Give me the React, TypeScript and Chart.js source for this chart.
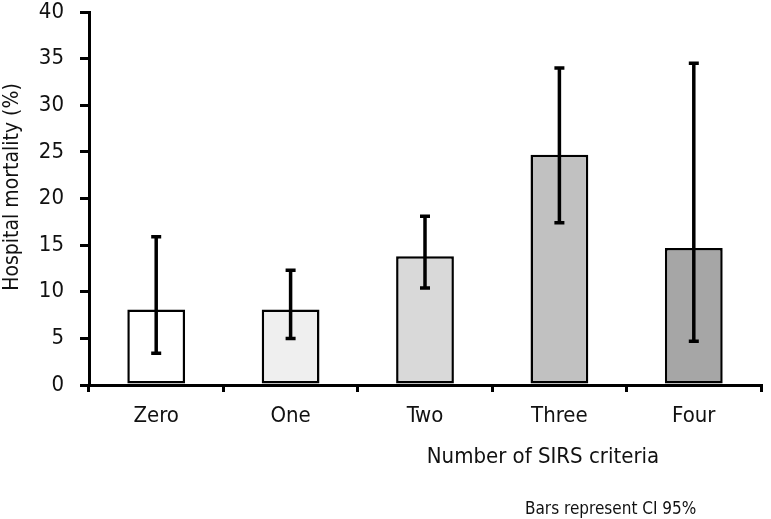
import React, { useEffect, useRef } from "react";
import { Chart, registerables } from "chart.js";

Chart.register(...registerables);

const categories = ["Zero", "One", "Two", "Three", "Four"];
const mortality = [8.1, 8.1, 13.8, 24.7, 14.7];
const ciLower = [3.4, 5.0, 10.4, 17.4, 4.7];
const ciUpper = [15.9, 12.3, 18.1, 34.0, 34.5];
const barColors = ["#ffffff", "#efefef", "#d9d9d9", "#c1c1c1", "#a6a6a6"];
const yTicks = [0, 5, 10, 15, 20, 25, 30, 35, 40];

const yTitle = "Hospital mortality (%)";
const xTitle = "Number of SIRS criteria";
const footnote = "Bars represent CI 95%";

const FONT = '"Liberation Sans Narrow", "DejaVu Sans Condensed", "Liberation Sans", sans-serif';

const errorBarPlugin = {
  id: "errorBars",
  afterDatasetsDraw(chart: any) {
    const { ctx, scales } = chart;
    const xs = scales.x;
    const ys = scales.y;
    ctx.save();
    ctx.strokeStyle = "#000";
    ctx.lineWidth = 3.5;
    ctx.lineCap = "butt";
    categories.forEach((_, i) => {
      const x = xs.getPixelForValue(i);
      const yLo = ys.getPixelForValue(ciLower[i]);
      const yHi = ys.getPixelForValue(ciUpper[i]);
      ctx.beginPath();
      ctx.moveTo(x, yLo);
      ctx.lineTo(x, yHi);
      ctx.stroke();
      ctx.beginPath();
      ctx.moveTo(x - 5, yLo);
      ctx.lineTo(x + 5, yLo);
      ctx.moveTo(x - 5, yHi);
      ctx.lineTo(x + 5, yHi);
      ctx.stroke();
    });
    ctx.restore();
  },
};

const textPlugin = {
  id: "texts",
  afterDraw(chart: any) {
    const { ctx } = chart;
    ctx.save();
    ctx.fillStyle = "#111";
    ctx.font = `22px ${FONT}`;
    ctx.textAlign = "center";
    ctx.textBaseline = "alphabetic";
    ctx.fillText(xTitle, 543, 463);
    ctx.save();
    ctx.translate(18, 187);
    ctx.rotate(-Math.PI / 2);
    ctx.font = `21px ${FONT}`;
    ctx.fillText(yTitle, 0, 0);
    ctx.restore();
    ctx.font = `17px ${FONT}`;
    ctx.textAlign = "left";
    ctx.fillText(footnote, 525, 514);
    ctx.restore();
  },
};

export default function App() {
  const ref = useRef<HTMLCanvasElement>(null);
  useEffect(() => {
    document.body.style.margin = "0";
    const canvas = ref.current!;
    const chart = new Chart(canvas, {
      type: "bar",
      data: {
        labels: categories,
        datasets: [
          {
            data: mortality,
            backgroundColor: barColors,
            borderColor: "#000",
            borderWidth: 2.5,
            borderSkipped: false,
            categoryPercentage: 1,
            barPercentage: 0.43,
          },
        ],
      },
      options: {
        responsive: false,
        animation: false,
        devicePixelRatio: 1,
        layout: { padding: { top: 12, right: 10, left: 0, bottom: 0 } },
        plugins: {
          legend: { display: false },
          tooltip: { enabled: false },
          title: { display: false },
        },
        scales: {
          x: {
            offset: true,
            grid: {
              offset: true,
              display: true,
              drawOnChartArea: false,
              drawTicks: true,
              tickLength: 7,
              color: "#000",
              lineWidth: 3,
            },
            border: { display: true, color: "#000", width: 3 },
            ticks: {
              color: "#111",
              font: { family: FONT, size: 22 },
              padding: 11,
              maxRotation: 0,
            },
            afterFit: (s: any) => {
              s.height = 519 - 385;
              s.paddingLeft = 0;
              s.paddingRight = 0;
            },
          },
          y: {
            min: 0,
            max: 40,
            afterBuildTicks: (s: any) => {
              s.ticks = yTicks.map((v) => ({ value: v }));
            },
            grid: {
              display: true,
              drawOnChartArea: false,
              drawTicks: true,
              tickLength: 9,
              color: "#000",
              lineWidth: 3,
            },
            border: { display: true, color: "#000", width: 3 },
            ticks: {
              color: "#111",
              font: { family: FONT, size: 22 },
              padding: 16,
            },
            afterFit: (s: any) => {
              s.width = 89;
              s.paddingTop = 0;
              s.paddingBottom = 0;
            },
          },
        },
      },
      plugins: [errorBarPlugin, textPlugin],
    });
    return () => chart.destroy();
  }, []);
  return <canvas ref={ref} width={771} height={519} style={{ display: "block" }} />;
}
